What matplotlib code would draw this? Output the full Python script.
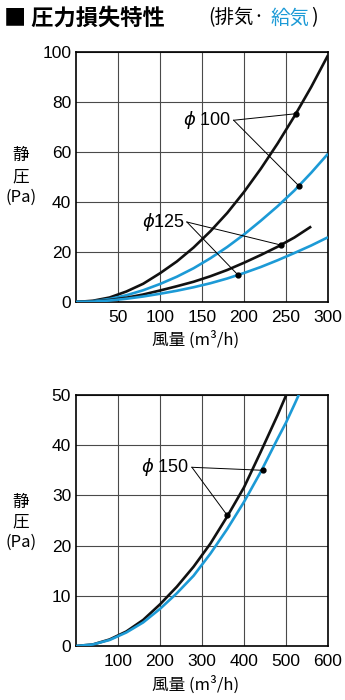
import matplotlib
matplotlib.use("Agg")
import matplotlib.pyplot as plt

# ---------------- data ----------------
# top chart (0-300 m3/h)
x100_exh = [0, 20, 40, 60, 80, 100, 120, 140, 160, 180, 200, 220, 240, 260, 280, 300]
y100_exh = [0, 0.5, 1.8, 4.2, 7.3, 11.5, 16.2, 21.8, 28.3, 35.6, 44, 53.3, 63.4, 74.3, 86, 98.7]
x100_sup = [0, 20, 40, 60, 80, 100, 120, 140, 160, 180, 200, 220, 240, 260, 280, 300]
y100_sup = [0, 0.3, 1.2, 2.7, 4.7, 7.2, 10.1, 13.5, 17.5, 22, 27, 32.5, 38.3, 44.6, 51.7, 59.3]
x125_exh = [0, 20, 40, 60, 80, 100, 120, 140, 160, 180, 200, 220, 240, 260, 280]
y125_exh = [0, 0.2, 0.8, 1.7, 3.0, 4.6, 6.3, 8.1, 10.3, 12.8, 15.7, 18.8, 22.1, 25.8, 30.2]
x125_sup = [0, 20, 40, 60, 80, 100, 120, 140, 160, 180, 200, 220, 240, 260, 280, 300]
y125_sup = [0, 0.15, 0.6, 1.3, 2.2, 3.3, 4.5, 5.9, 7.5, 9.4, 11.6, 14, 16.7, 19.6, 22.6, 25.9]

# bottom chart (0-600 m3/h)
x150_exh = [0, 40, 80, 120, 160, 200, 240, 280, 320, 360, 400, 440, 480, 500, 520]
y150_exh = [0, 0.3, 1.3, 2.9, 5.2, 8.3, 11.8, 15.8, 20.4, 25.8, 31.6, 38.7, 46, 49.9, 54]
x150_sup = [0, 40, 80, 120, 160, 200, 240, 280, 320, 360, 400, 440, 480, 500, 520, 540]
y150_sup = [0, 0.3, 1.2, 2.7, 4.7, 7.4, 10.5, 14, 18.4, 23.3, 28.7, 34.7, 41.3, 44.5, 48.1, 51.8]

top_xticks = [50, 100, 150, 200, 250, 300]
top_yticks = [0, 20, 40, 60, 80, 100]
bot_xticks = [100, 200, 300, 400, 500, 600]
bot_yticks = [0, 10, 20, 30, 40, 50]

# annotations: label, leader start, dots (exhaust, supply)
lab100 = "$\\phi$ 100"
lab100_pos = (187.7, 72.7)
dots100 = [(261.5, 75.3), (265.5, 46.4)]
lab125 = "$\\phi$125"
lab125_pos = (132, 32)
dots125 = [(243.7, 22.8), (192.9, 10.8)]
lab150 = "$\\phi$ 150"
lab150_pos = (276, 35.6)
dots150 = [(359.5, 26.1), (445, 35)]

title_main = "■ 圧力損失特性"
title_sub1 = "(排気·"
title_sub2 = "給気"
title_sub3 = ")"
ylab = ["静", "圧", "(Pa)"]
xlab = "風量 (m³/h)"

# ---------------- style ----------------
BLUE = "#1c9ad6"
BLACK = "#111111"
CJK = ["Noto Sans CJK JP", "DejaVu Sans"]
NUM = ["Liberation Sans", "DejaVu Sans"]
plt.rcParams["mathtext.fontset"] = "dejavusans"

W, H = 345, 700
fig = plt.figure(figsize=(W / 100, H / 100), dpi=100)


def px_axes(left, top, right, bottom):
    return fig.add_axes([left / W, 1 - bottom / H, (right - left) / W, (bottom - top) / H])


ax1 = px_axes(76, 52, 328, 302)
ax2 = px_axes(76, 395, 328, 646)


def style(ax, xlim, ylim, xt, yt):
    ax.set_xlim(*xlim)
    ax.set_ylim(*ylim)
    ax.set_xticks(xt)
    ax.set_yticks(yt)
    ax.tick_params(length=0, labelsize=12.5)
    ax.tick_params(axis="x", pad=6)
    ax.tick_params(axis="y", pad=3.5)
    for lbl in ax.get_xticklabels() + ax.get_yticklabels():
        lbl.set_fontfamily(NUM)
    ax.grid(True, color="#4a4a4a", linewidth=0.8)
    ax.set_axisbelow(True)
    for s in ax.spines.values():
        s.set_linewidth(1.2)
        s.set_color("black")


style(ax1, (0, 300), (0, 100), top_xticks, top_yticks)
style(ax2, (0, 600), (0, 50), bot_xticks, bot_yticks)

lw = 1.9
kw = dict(lw=lw, solid_capstyle="butt", solid_joinstyle="round", zorder=3)
ax1.plot(x100_exh, y100_exh, color=BLACK, **kw)
ax1.plot(x100_sup, y100_sup, color=BLUE, **kw)
ax1.plot(x125_exh, y125_exh, color=BLACK, **kw)
ax1.plot(x125_sup, y125_sup, color=BLUE, **kw)
ax2.plot(x150_exh, y150_exh, color=BLACK, **kw)
ax2.plot(x150_sup, y150_sup, color=BLUE, **kw)


def annotate(ax, label, pos, dots, text_x):
    ax.text(text_x, pos[1], label, ha="right", va="center", fontsize=13,
            family=NUM, zorder=5)
    for d in dots:
        ax.plot([pos[0], d[0]], [pos[1], d[1]], color="black", lw=0.7, zorder=4)
        ax.plot([d[0]], [d[1]], "o", color="black", ms=3.5, zorder=5)


annotate(ax1, lab100, lab100_pos, dots100, 185)
annotate(ax1, lab125, lab125_pos, dots125, 130)
annotate(ax2, lab150, lab150_pos, dots150, 270)

# titles
fig.text(4 / W, 1 - 18 / H, title_main, ha="left", va="center", fontsize=16,
         fontweight="bold", family=CJK)
fig.text(208 / W, 1 - 18 / H, title_sub1, ha="left", va="center", fontsize=14, family=CJK)
fig.text(271 / W, 1 - 18 / H, title_sub2, ha="left", va="center", fontsize=14,
         family=CJK, color=BLUE)
fig.text(311 / W, 1 - 18 / H, title_sub3, ha="left", va="center", fontsize=14, family=CJK)

# axis labels
for ys in ([155, 177, 197], [502, 522, 542]):
    for t, y in zip(ylab, ys):
        fig.text(21 / W, 1 - y / H, t, ha="center", va="center", fontsize=12, family=CJK)

for y in (340, 685):
    fig.text(196 / W, 1 - y / H, xlab, ha="center", va="center", fontsize=12, family=CJK)

fig.savefig("out.png", dpi=100)
